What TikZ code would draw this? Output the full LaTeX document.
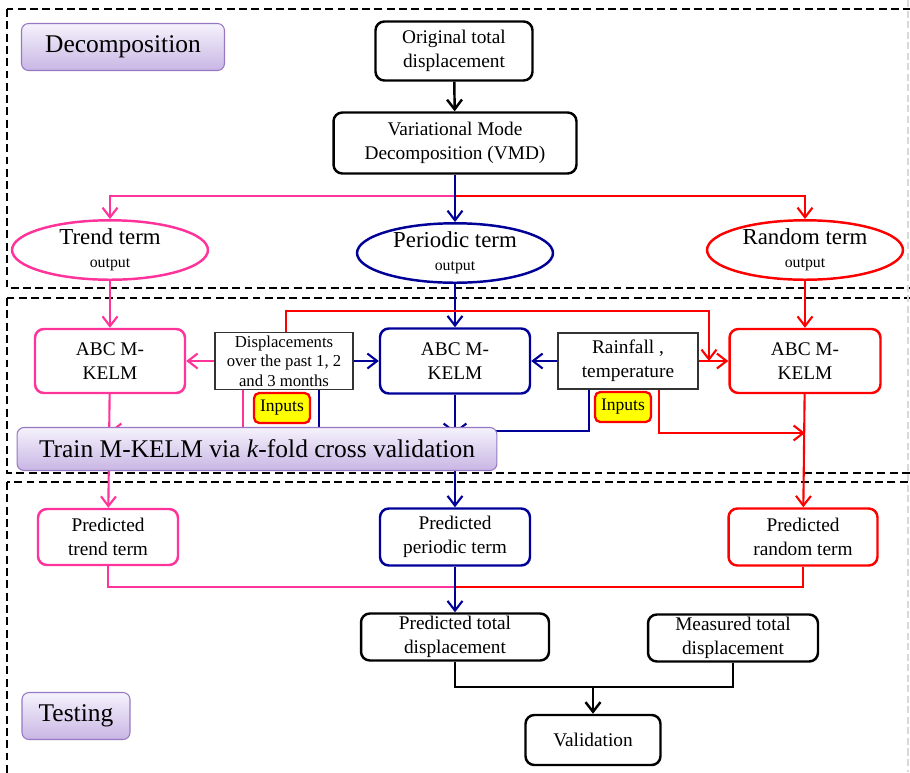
\documentclass[tikz,border=0pt]{standalone}
\usepackage{fontspec}
\setmainfont{Liberation Serif}
\usetikzlibrary{arrows.meta}
\usetikzlibrary{shapes.geometric}
\definecolor{mypink}{RGB}{255,51,153}
\definecolor{myblue}{RGB}{0,0,153}
\definecolor{myred}{RGB}{255,0,0}
\definecolor{mylilac}{RGB}{150,120,195}
\definecolor{lilactop}{RGB}{245,242,252}
\definecolor{lilacbot}{RGB}{200,182,228}
\definecolor{myyellow}{RGB}{255,255,0}

\begin{document}
\begin{tikzpicture}[x=0.02cm, y=-0.02cm,
  arr/.style={-{Straight Barb[length=5.5pt,width=8.5pt]}},
  conn/.style={line width=1.2pt},
  frame/.style={dash pattern=on 4.5pt off 2.5pt, line width=1.3pt},
  procbox/.style={draw, rounded corners=5pt, line width=1.4pt, align=center,
    inner sep=0pt, font=\fontsize{11}{13.5}\selectfont},
  inbox/.style={draw=black!80, line width=0.8pt, align=center, inner sep=0pt,
    fill=white},
  termell/.style={draw, ellipse, line width=1.4pt, align=center, inner sep=0pt,
    minimum width=3.92cm, minimum height=1.08cm, font=\fontsize{13}{12}\selectfont},
  stagelabel/.style={draw=mylilac, rounded corners=4pt, top color=lilactop,
    bottom color=lilacbot, line width=0.6pt, inner sep=0pt,
    font=\fontsize{14.5}{16}\selectfont},
  inlabel/.style={draw=myred, fill=myyellow, rounded corners=3pt, line width=1.3pt,
    inner sep=0pt, minimum width=1.12cm, minimum height=0.6cm,
    font=\fontsize{10}{11}\selectfont}
]
\useasboundingbox (0,0) rectangle (910,772);

% stage frames
\draw[frame] (7,9) rectangle (918,288);
\draw[frame] (7,298) rectangle (918,473);
\draw[frame] (7,482) rectangle (918,790);
\draw[gray!30, dash pattern=on 4pt off 2pt, line width=0.6pt] (908,0) -- (908,772);

% decomposition
\node[stagelabel, minimum width=4.06cm, minimum height=0.94cm] (decomp) at (123,47) {Decomposition};
\node[procbox, minimum width=3.14cm, minimum height=1.18cm] (orig) at (454,51) {Original total\\displacement};
\node[procbox, minimum width=4.86cm, minimum height=1.22cm] (vmd) at (455,143) {Variational Mode\\Decomposition (VMD)};

\node[termell, draw=mypink] (trend) at (110,250) {Trend term\\[1pt]{\fontsize{9}{10}\selectfont output}};
\node[termell, draw=myblue] (periodic) at (455,253) {Periodic term\\[1pt]{\fontsize{9}{10}\selectfont output}};
\node[termell, draw=myred] (random) at (805,250) {Random term\\[1pt]{\fontsize{9}{10}\selectfont output}};

\coordinate (split) at (455,196);
\draw[conn, line width=1.4pt, arr] (orig) -- (vmd);
\draw[conn, mypink, arr] (split) -| (trend.north);
\draw[conn, myred, arr] (split) -| (random.north);
\draw[conn, myblue, arr] (vmd) -- (periodic);

% training
\node[procbox, draw=mypink, minimum width=3cm, minimum height=1.28cm] (abctrend) at (110,361) {ABC M-\\KELM};
\node[procbox, draw=myblue, minimum width=3cm, minimum height=1.3cm] (abcperiodic) at (455,361) {ABC M-\\KELM};
\node[procbox, draw=myred, minimum width=3.02cm, minimum height=1.28cm] (abcrandom) at (805,361) {ABC M-\\KELM};
\node[inbox, minimum width=2.76cm, minimum height=1.14cm, font=\fontsize{9.5}{11.2}\selectfont] (disp) at (284,361) {Displacements\\over the past 1, 2\\and 3 months};
\node[inbox, minimum width=2.8cm, minimum height=1.12cm, font=\fontsize{11}{13.5}\selectfont] (rain) at (628,361) {Rainfall ,\\temperature};

\coordinate (redtop) at (709,311);
\coordinate (redhit) at (709,361);
\coordinate (pinkhit) at (110,431);
\coordinate (bluehit) at (455,431);
\coordinate (redside) at (805,433);

\draw[conn, mypink, arr] (trend) -- (abctrend);
\draw[conn, myblue, arr] (periodic) -- (abcperiodic);
\draw[conn, myred, arr] (random) -- (abcrandom);
\draw[conn, mypink, arr] (disp) -- (abctrend);
\draw[conn, myblue, arr] (disp) -- (abcperiodic);
\draw[conn, myblue, arr] (rain) -- (abcperiodic);
\draw[conn, myred, arr] (rain) -- (abcrandom);
\draw[conn, myred, arr] ([xshift=0.04cm]disp.north) |- (redtop) -- (redhit);

\draw[conn, mypink, arr] ([xshift=-0.82cm]disp.south) |- (pinkhit);
\draw[conn, myblue, arr] ([xshift=0.7cm]disp.south) |- (bluehit);
\draw[conn, myblue, arr] ([xshift=-0.78cm]rain.south) |- (bluehit);
\draw[conn, myred, arr] ([xshift=0.62cm]rain.south) |- (redside);

% testing
\node[procbox, draw=mypink, minimum width=2.8cm, minimum height=1.12cm] (ptrend) at (108,537) {Predicted\\trend term};
\node[procbox, draw=myblue, minimum width=3cm, minimum height=1.14cm] (pperiodic) at (455,537) {Predicted\\periodic term};
\node[procbox, draw=myred, minimum width=2.98cm, minimum height=1.14cm] (prandom) at (803,537) {Predicted\\random term};

\draw[conn, mypink, arr] (abctrend) -- (ptrend);
\draw[conn, myblue, arr] (abcperiodic) -- (pperiodic);
\draw[conn, myred, arr] (abcrandom) -- (prandom);

\node[stagelabel, minimum width=9.6cm, minimum height=0.86cm] (train) at (257,449) {Train M-KELM via \textit{k}-fold cross validation};
\node[inlabel] (inputsa) at (282,408) {Inputs};
\node[inlabel] (inputsb) at (623,407) {Inputs};

\node[procbox, minimum width=3.76cm, minimum height=0.94cm] (ptotal) at (455,637) {Predicted total\\displacement};
\node[procbox, minimum width=3.4cm, minimum height=0.94cm] (measured) at (733,638) {Measured total\\displacement};
\node[procbox, minimum width=2.7cm, minimum height=1cm] (valid) at (593,740) {Validation};
\node[stagelabel, minimum width=2.16cm, minimum height=0.94cm] (testing) at (76,716) {Testing};

\coordinate (sum) at (455,587);
\coordinate (join) at (593,687);
\draw[conn, mypink] (ptrend) |- (sum);
\draw[conn, myred] (prandom) |- (sum);
\draw[conn, myblue, arr] (pperiodic) -- (ptotal);
\draw[conn, line width=1.4pt] (ptotal) |- (join) -| (measured);
\draw[conn, line width=1.4pt, arr] (join) -- (valid);
\end{tikzpicture}
\end{document}
